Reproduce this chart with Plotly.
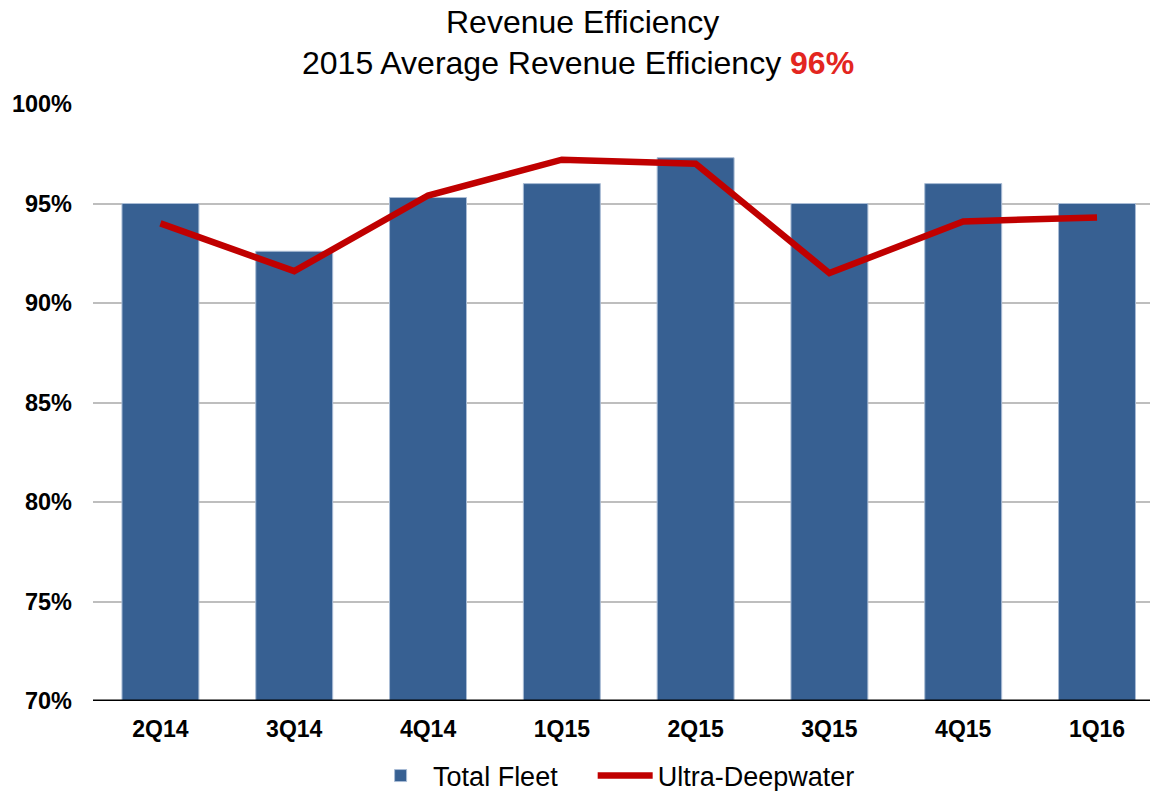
import plotly.graph_objects as go

quarters = ["2Q14", "3Q14", "4Q14", "1Q15", "2Q15", "3Q15", "4Q15", "1Q16"]
total_fleet = [95.0, 92.6, 95.3, 96.0, 97.3, 95.0, 96.0, 95.0]
ultra_deepwater = [94.0, 91.6, 95.4, 97.2, 97.0, 91.5, 94.1, 94.3]
y_ticks = [70, 75, 80, 85, 90, 95, 100]
y_tick_labels = ["70%", "75%", "80%", "85%", "90%", "95%", "100%"]

FONT = "Liberation Sans, Arial, sans-serif"

fig = go.Figure()
fig.add_trace(go.Bar(
    x=quarters, y=total_fleet, name="Total Fleet" + "\u00a0" * 4,
    marker=dict(color="#376092", line=dict(color="#A9BCD5", width=1)),
    width=0.575,
))
fig.add_trace(go.Scatter(
    x=quarters, y=ultra_deepwater, name="Ultra-Deepwater", mode="lines",
    line=dict(color="#C00000", width=6.5),
))

fig.update_layout(
    width=1150, height=791,
    margin=dict(l=93, r=0, t=104, b=90, autoexpand=False),
    plot_bgcolor="white", paper_bgcolor="white",
    font=dict(family=FONT, color="black"),
    showlegend=True,
    legend=dict(orientation="h", xref="container", yref="container",
                x=0.534, xanchor="center", y=(791 - 776) / 791, yanchor="middle",
                font=dict(size=27, family=FONT), itemwidth=55,
                traceorder="normal"),
    xaxis=dict(
        type="category", range=[-0.504, 7.396], automargin=False,
        showgrid=False, showline=False, zeroline=False,
        tickfont=dict(size=23, family=FONT, color="black", weight="bold"),
        ticks="", ticklabelstandoff=12,
    ),
    yaxis=dict(
        range=[70, 100], tickvals=y_ticks, ticktext=y_tick_labels, automargin=False,
        showgrid=True, gridcolor="#BEBEBE", gridwidth=2,
        zeroline=False, showline=False,
        tickfont=dict(size=23.5, family=FONT, color="black", weight="bold"),
        ticks="", ticklabelstandoff=20,
    ),
    annotations=[
        dict(text="Revenue Efficiency", x=0.463, y=1.138, xref="paper", yref="paper",
             xanchor="center", yanchor="middle", showarrow=False,
             font=dict(size=32, family=FONT, color="black")),
        dict(text="2015 Average Revenue Efficiency <b><span style='color:#E3261F'>96%</span></b>",
             x=0.459, y=1.068, xref="paper", yref="paper",
             xanchor="center", yanchor="middle", showarrow=False,
             font=dict(size=32, family=FONT, color="black")),
    ],
    shapes=[dict(type="line", xref="paper", yref="y", x0=0, x1=1, y0=70, y1=70,
                 line=dict(color="black", width=3))],
)

fig.write_html(
    "out.html",
    config={"displayModeBar": False},
    post_script="document.body.style.margin='0';document.body.style.overflow='hidden';",
)
